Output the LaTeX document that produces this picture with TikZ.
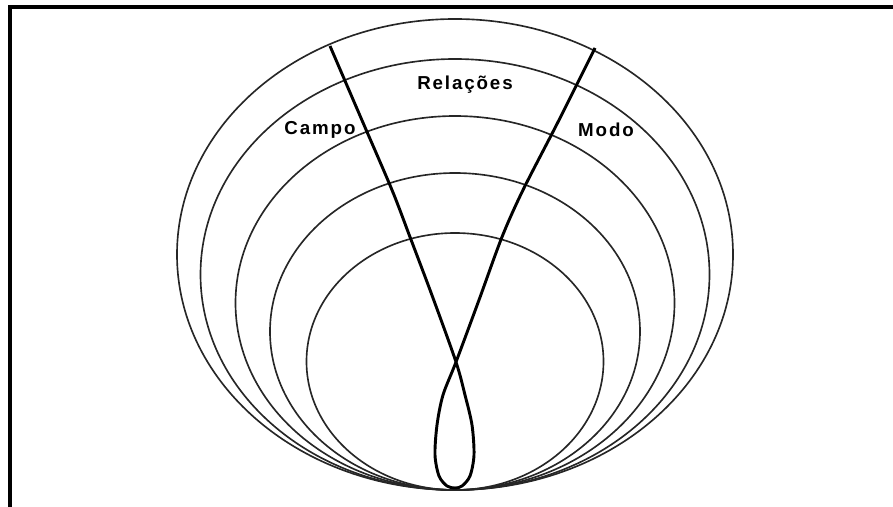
\documentclass[tikz,border=0pt]{standalone}
\usepackage{fontspec}
\newfontfamily\lblfont[LetterSpace=10]{Liberation Sans}
\usepackage{tikz}

\begin{document}
\begin{tikzpicture}[
  x=0.03cm, y=-0.03cm,
  frame/.style={line width=3.4pt,black},
  orbit/.style={line width=1.4pt,black!85},
  strand/.style={line width=2.5pt,black,line join=round},
  lbl/.style={font=\lblfont\bfseries\fontsize{16}{18}\selectfont,inner sep=0pt},
]
\useasboundingbox (0,0) rectangle (893,507);
% frame, open on the right and at the bottom
\draw[frame] (893,7) -- (10,7) -- (10,507);
% nested ellipses, all touching at the bottom
\foreach \rx/\ry in {278/235.5, 254.5/215.5, 219.5/187, 185/158.5, 148.5/128.5}
  \draw[orbit] (455,490-\ry) ellipse [x radius=\rx, y radius=\ry];
% crossed strands with the loop
\draw[strand] plot[smooth,tension=0.5] coordinates {
  (330,46) (361,118) (392,190) (410,237) (433,298) (456,362)
  (465,395) (472,425) (474,455) (470,476) (462,486) (455,488)
  (447,486) (439,476) (435,455) (437,425) (443,395) (456,362)
  (479,300) (502,237) (523,190) (558,122) (595,48)};
\node[lbl] (rel)   at (465,85)  {Relações};
\node[lbl] (campo) at (320,130) {Campo};
\node[lbl] (modo)  at (606,130) {Modo};
\end{tikzpicture}
\end{document}
